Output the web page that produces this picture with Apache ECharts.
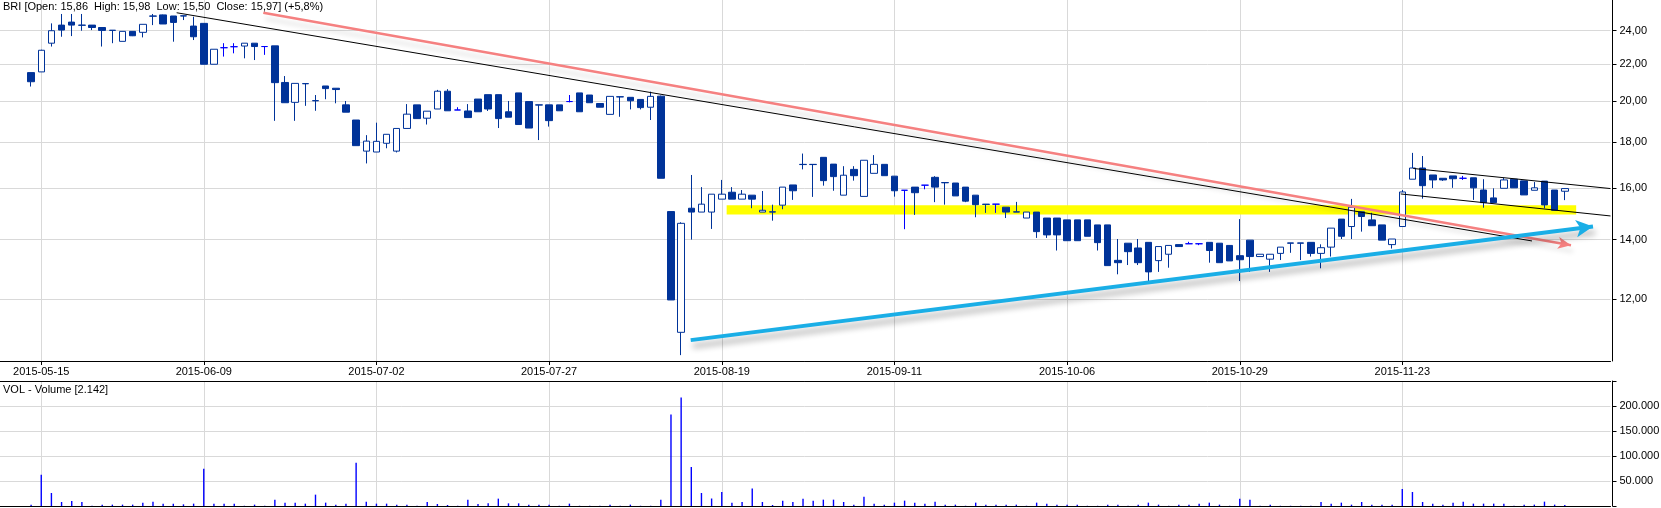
<!DOCTYPE html>
<html><head><meta charset="utf-8">
<script src="https://cdn.jsdelivr.net/npm/echarts@6/dist/echarts.min.js"></script>
<style>html,body{margin:0;padding:0;background:#fff}#c{width:1661px;height:508px}</style>
</head><body><div id="c"></div>
<script>
// ---------- data ----------
const symbolName = 'BRI';
const firstDay = '2015-05-14';
const lastDay = '2015-12-15';
const holidays = ['2015-06-04', '2015-11-11'];
const labelDates = ['2015-05-15','2015-06-09','2015-07-02','2015-07-27','2015-08-19','2015-09-11','2015-10-06','2015-10-29','2015-11-23'];
const priceTicks = [12, 14, 16, 18, 20, 22, 24];

const opens = [21.54,21.58,23.24,24.35,24.54,24.35,24.35,24.20,24.03,23.35,23.96,23.90,24.93,25.00,24.93,24.94,24.29,24.46,22.01,22.97,
23.03,23.07,23.24,23.04,23.08,21.00,19.95,20.94,20.04,20.81,20.69,19.82,19.06,17.59,17.55,17.95,17.59,18.65,19.82,19.15,
19.61,20.53,19.56,19.51,20.12,20.35,20.35,19.47,20.44,19.99,19.82,19.82,19.82,19.99,20.44,20.33,19.89,19.34,20.24,20.21,
20.10,19.70,20.27,15.05,11.02,15.18,15.03,15.03,15.54,15.82,15.54,15.70,15.03,15.04,15.30,16.12,17.00,17.00,17.31,17.01,
15.70,16.78,15.65,16.61,17.00,16.49,15.90,16.03,16.11,16.44,16.22,16.20,16.03,15.70,15.34,15.34,15.22,15.04,14.80,15.03,
14.80,14.80,14.73,14.73,14.73,14.54,14.54,13.27,13.87,13.70,13.90,13.26,13.48,13.82,13.85,13.85,13.90,13.87,13.79,13.43,
13.98,13.40,13.31,13.51,13.88,13.88,13.90,13.51,13.73,14.76,14.48,15.04,14.73,14.54,13.82,14.48,16.36,16.84,16.54,16.40,
16.50,16.40,16.42,15.91,15.59,15.98,16.36,16.29,15.90,16.28,15.91,15.86];
const closes = [21.04,22.82,24.00,24.04,24.35,24.34,24.20,24.02,24.02,23.96,23.69,24.40,24.92,24.42,24.52,24.93,23.63,22.01,22.88,22.97,
23.03,23.24,23.04,23.04,20.99,19.93,20.95,20.93,20.03,20.67,20.62,19.45,17.84,18.05,18.04,18.37,18.65,19.35,19.13,19.50,
20.53,19.52,19.56,19.18,19.47,19.61,19.13,19.20,18.84,18.67,19.81,19.03,19.52,19.99,19.47,19.93,19.70,20.26,20.23,20.03,
19.68,20.26,16.40,11.98,14.60,15.03,15.34,15.74,15.74,15.54,15.74,15.54,15.10,15.03,16.03,15.88,16.99,16.99,16.30,16.47,
16.53,16.51,17.18,17.00,16.51,15.88,15.90,15.80,16.11,16.03,16.21,15.67,15.46,15.32,15.33,15.34,15.03,15.03,15.03,14.29,
14.17,14.17,13.96,13.96,14.12,13.89,13.09,13.19,13.57,13.19,12.88,13.75,13.79,13.75,13.85,13.85,13.61,13.19,13.25,13.29,
13.40,13.48,13.48,13.73,13.87,13.87,13.51,13.71,14.42,14.12,15.22,14.86,14.51,13.98,14.02,15.83,16.84,16.09,16.33,16.33,
16.38,16.40,16.00,15.40,15.40,16.33,16.00,15.71,16.00,15.31,15.10,15.97];
const lows = [20.78,21.58,23.04,23.63,23.67,24.00,24.04,23.04,23.24,23.35,23.67,23.59,24.35,24.42,23.33,24.67,23.43,22.01,22.01,22.45,
22.64,22.35,22.25,22.55,19.02,19.93,19.02,19.77,19.52,20.11,19.90,19.45,17.84,17.04,17.55,17.72,17.53,18.65,19.13,18.84,
19.61,19.52,19.56,19.18,19.47,19.51,18.67,19.20,18.84,18.67,18.10,18.74,19.52,19.95,19.47,19.93,19.70,19.34,19.22,19.59,
19.59,19.06,16.40,11.98,10.39,14.00,15.03,14.39,15.54,15.54,15.54,15.18,15.03,14.70,15.14,15.51,16.78,15.63,16.09,15.88,
15.70,16.30,15.65,16.61,16.51,15.64,14.38,14.92,15.94,15.42,15.32,15.67,15.42,14.83,15.00,15.00,14.80,15.03,14.80,14.06,
14.06,13.61,13.96,13.96,14.12,13.61,13.09,12.80,13.11,13.11,12.58,12.88,13.02,13.75,13.85,13.80,13.19,13.19,13.25,12.58,
12.88,13.40,12.88,13.28,13.53,13.28,13.40,13.00,13.40,14.02,14.02,14.29,14.51,13.98,13.68,14.48,16.36,15.56,15.99,16.29,
16.00,16.33,15.51,15.20,15.40,15.98,16.00,15.71,15.90,15.18,15.10,15.50];
const highs = [21.54,22.85,24.46,25.06,25.06,25.06,24.35,24.20,24.03,23.96,23.96,24.40,25.06,25.02,24.93,24.94,24.88,24.46,22.88,23.24,
23.24,23.24,23.24,23.04,23.08,21.35,20.95,20.94,20.33,20.81,20.69,20.02,19.06,18.33,18.93,18.37,18.65,19.86,19.82,19.50,
20.60,20.64,19.70,19.86,20.12,20.35,20.35,20.02,20.44,19.99,19.82,19.82,19.82,20.33,20.44,20.33,19.89,20.26,20.24,20.21,
20.10,20.51,20.30,15.05,14.64,16.54,16.03,15.74,16.33,16.03,15.91,15.70,15.87,15.32,16.03,16.12,17.48,17.00,17.31,17.01,
16.92,16.92,17.18,17.41,17.00,16.49,15.90,16.03,16.11,16.49,16.22,16.20,16.03,15.70,15.34,15.34,15.22,15.43,15.03,15.03,
14.80,14.80,14.73,14.73,14.73,14.54,14.54,14.02,13.87,14.02,13.90,13.75,13.79,13.82,13.92,13.85,13.90,13.87,13.79,14.76,
13.98,13.48,13.48,13.73,13.88,13.88,13.90,13.83,14.42,14.76,15.55,15.04,15.00,14.54,14.02,15.91,17.51,17.37,16.54,16.40,
16.50,16.50,16.42,16.36,15.98,16.42,16.36,16.29,16.24,16.28,15.91,15.98];
const volumes = [2700,62700,26000,8000,10000,8000,500,2700,2700,2700,2700,6700,8700,4700,4700,3300,4700,74700,4700,4700,
4700,500,2700,500,12700,6700,6700,4700,22700,6700,2700,4700,86700,8700,4700,4700,2700,2700,500,8000,
4000,2000,500,12700,4000,5300,14700,5300,5300,2700,2700,2700,500,4700,500,500,500,2700,500,2700,
500,500,12700,183000,217000,78000,26000,15000,28000,6700,8000,35000,8000,2000,10700,8000,14700,10700,12700,12700,
8000,2700,18700,4700,2700,6700,10700,6700,4700,8700,2700,2700,500,6700,2700,2700,2700,2700,500,6700,
4700,2700,2700,2700,500,500,2700,2700,500,2700,6700,2700,500,2700,2700,4700,6700,2700,500,14700,
12700,500,2700,500,500,500,500,8000,4700,6700,2700,8000,2700,2700,2700,34000,28000,8000,4700,2700,
6700,8700,4700,4700,4700,4700,500,2700,2700,8700,2700,2142];

// drawn annotations: [tradingDayIndex, price]
const blackTrend = [[14.33, 25.14], [147.77, 13.95]];
const redTrend = [[22.86, 25.14], [151.61, 13.80]];
const blueTrend = [[64.94, 10.80], [153.78, 14.48]];
const channelUpper = [[136.08, 16.82], [155.5, 15.97]];
const channelLower = [[134.84, 15.75], [155.5, 14.88]];
const supportZone = [68.48, 152.12, 15.30, 14.94];

// ---------- build ----------
function tradingDays() {
  const out = [];
  let t = Date.parse(firstDay + 'T00:00:00Z');
  const end = Date.parse(lastDay + 'T00:00:00Z');
  while (t <= end) {
    const d = new Date(t);
    const wd = d.getUTCDay();
    const s = d.toISOString().slice(0, 10);
    if (wd !== 0 && wd !== 6 && holidays.indexOf(s) < 0) out.push(s);
    t += 86400000;
  }
  return out;
}
const dates = tradingDays();
const PAD_BEFORE = 3, PAD_AFTER = 4;
const cats = [];
for (let i = 0; i < PAD_BEFORE; i++) cats.push('pb' + i);
dates.forEach(d => cats.push(d));
for (let i = 0; i < PAD_AFTER; i++) cats.push('pa' + i);

const candleData = [], volData = [];
for (let k = 0; k < cats.length; k++) {
  const i = k - PAD_BEFORE;
  if (i >= 0 && i < opens.length) {
    const item = { value: [opens[i], closes[i], lows[i], highs[i]] };
    if (opens[i] === closes[i]) {
      item.itemStyle = { color: '#0000ff', color0: '#0000ff', borderColor: '#0000ff', borderColor0: '#0000ff' };
    }
    candleData.push(item);
    volData.push(volumes[i]);
  } else {
    candleData.push(['-', '-', '-', '-']);
    volData.push('-');
  }
}

const n = opens.length;
const lastC = closes[n - 1], prevC = closes[n - 2];
const fmt2 = v => v.toFixed(2).replace('.', ',');
const pct = ((lastC / prevC - 1) * 100);
const thousands = v => String(Math.round(v)).replace(/\B(?=(\d{3})+(?!\d))/g, '.');
const titleText = symbolName + ' [Open: ' + fmt2(opens[n-1]) + '  High: ' + fmt2(highs[n-1]) + '  Low: ' + fmt2(lows[n-1]) +
  '  Close: ' + fmt2(lastC) + '] (' + (pct >= 0 ? '+' : '') + pct.toFixed(1).replace('.', ',') + '%)';
const volText = 'VOL - Volume [' + thousands(volumes[n - 1]) + ']';

const FONT = '"Liberation Sans", Arial, sans-serif';
const isLabel = (idx, val) => labelDates.indexOf(val) >= 0;
const GRID_LEFT = -4.45, GRID_RIGHT = 50.5;

function seg(pts, style, endSym, endSize) {
  return [
    { coord: pts[0], symbol: 'none', lineStyle: style },
    { coord: pts[1], symbol: endSym || 'none', symbolSize: endSize || 1 }
  ];
}

const chart = echarts.init(document.getElementById('c'), null, { renderer: 'canvas' });
chart.setOption({
  animation: false,
  backgroundColor: '#ffffff',
  textStyle: { fontFamily: FONT },
  title: [
    { text: titleText, left: 3, top: 1, padding: 0, textStyle: { fontSize: 11, fontWeight: 'normal', color: '#000', fontFamily: FONT } },
    { text: volText, left: 3, top: 384, padding: 0, textStyle: { fontSize: 11, fontWeight: 'normal', color: '#000', fontFamily: FONT } }
  ],
  grid: [
    { left: GRID_LEFT, right: GRID_RIGHT, top: 0, height: 361, outerBoundsMode: 'none', containLabel: false },
    { left: GRID_LEFT, right: GRID_RIGHT, top: 381, height: 125, outerBoundsMode: 'none', containLabel: false }
  ],
  xAxis: [
    {
      type: 'category', gridIndex: 0, data: cats, boundaryGap: true,
      axisLine: { show: true, onZero: false, lineStyle: { color: '#000', width: 1 } },
      axisTick: { show: true, alignWithLabel: true, interval: isLabel, length: 4, lineStyle: { color: '#000' } },
      axisLabel: { show: true, interval: isLabel, color: '#000', fontSize: 11, margin: 5, fontFamily: FONT },
      splitLine: { show: true, interval: isLabel, alignWithLabel: true, lineStyle: { color: '#d9d9d9', width: 1 } }
    },
    {
      type: 'category', gridIndex: 1, data: cats, boundaryGap: true,
      axisLine: { show: true, onZero: false, lineStyle: { color: '#000', width: 1 } },
      axisTick: { show: false }, axisLabel: { show: false },
      splitLine: { show: true, interval: isLabel, alignWithLabel: true, lineStyle: { color: '#d9d9d9', width: 1 } }
    },
    { type: 'value', gridIndex: 0, min: -PAD_BEFORE - 0.5, max: cats.length - PAD_BEFORE - 0.5, show: false,
      axisLine: { onZero: false } },
    {
      type: 'value', gridIndex: 1, position: 'top', min: 0, max: 1,
      axisLine: { show: true, onZero: false, lineStyle: { color: '#000', width: 1 } },
      axisTick: { show: false }, axisLabel: { show: false }, splitLine: { show: false }
    }
  ],
  yAxis: [
    {
      type: 'log', logBase: 10, gridIndex: 0, position: 'right', offset: 2,
      min: 10.234, max: 25.98,
      axisLine: { show: true, onZero: false, lineStyle: { color: '#000', width: 1 } },
      axisTick: { show: true, customValues: priceTicks, length: 4, lineStyle: { color: '#000' } },
      axisLabel: { show: true, customValues: priceTicks, color: '#000', fontSize: 11, margin: 7, fontFamily: FONT,
        formatter: v => fmt2(Number(v)) },
      splitLine: { show: true, lineStyle: { color: '#d9d9d9', width: 1 } }
    },
    {
      type: 'value', gridIndex: 1, position: 'right', offset: 2,
      min: 0, max: 250000, interval: 50000,
      axisLine: { show: true, onZero: false, lineStyle: { color: '#000', width: 1 } },
      axisTick: { show: true, length: 4, lineStyle: { color: '#000' } },
      axisLabel: { show: true, color: '#000', fontSize: 11, margin: 7, fontFamily: FONT,
        formatter: v => (v <= 0 || v >= 250000) ? '' : thousands(v) },
      splitLine: { show: true, lineStyle: { color: '#d9d9d9', width: 1 } }
    }
  ],
  series: [
    {
      type: 'custom', xAxisIndex: 2, yAxisIndex: 0, z: 1, silent: true,
      data: [supportZone],
      encode: { x: [0, 1], y: [2, 3] },
      renderItem: function (params, api) {
        const a = api.coord([api.value(0), api.value(2)]);
        const b = api.coord([api.value(1), api.value(3)]);
        return {
          type: 'rect',
          shape: { x: a[0], y: a[1], width: b[0] - a[0], height: b[1] - a[1] },
          style: { fill: '#ffff00' }
        };
      }
    },
    {
      type: 'candlestick', xAxisIndex: 0, yAxisIndex: 0, data: candleData, barWidth: 7, silent: true, z: 3,
      itemStyle: { color: '#ffffff', color0: '#003399', borderColor: '#003399', borderColor0: '#003399', borderWidth: 1 }
    },
    {
      type: 'bar', xAxisIndex: 1, yAxisIndex: 1, data: volData, barWidth: 1.4, silent: true,
      itemStyle: { color: '#0000ff' }
    },
    {
      type: 'line', xAxisIndex: 2, yAxisIndex: 0, data: [], silent: true, symbol: 'none', z: 5,
      markLine: {
        silent: true, animation: false, label: { show: false }, symbol: ['none', 'none'],
        emphasis: { disabled: true },
        data: [
          seg(redTrend, { color: '#f58080', width: 2.5, type: 'solid', shadowColor: 'rgba(0,0,0,0.13)', shadowBlur: 5, shadowOffsetX: 2, shadowOffsetY: 6 }, 'arrow', [9, 13]),
          seg(blackTrend, { color: '#000000', width: 1, type: 'solid' }),
          seg(channelUpper, { color: '#000000', width: 1, type: 'solid' }),
          seg(channelLower, { color: '#000000', width: 1, type: 'solid' }),
          seg(blueTrend, { color: '#1aaee6', width: 4, type: 'solid', shadowColor: 'rgba(0,0,0,0.33)', shadowBlur: 6, shadowOffsetX: 2, shadowOffsetY: 6 }, 'arrow', [13, 17])
        ]
      }
    }
  ]
});
</script>
</body></html>
